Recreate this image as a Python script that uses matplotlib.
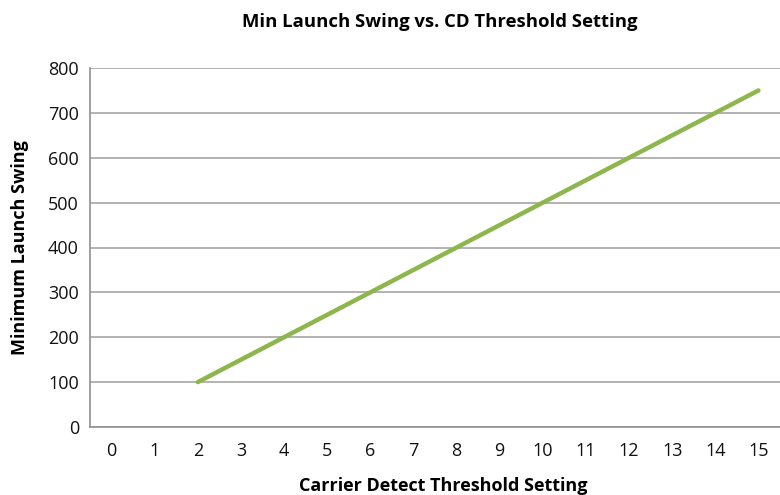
import matplotlib
matplotlib.use('Agg')
from matplotlib import pyplot as plt

plt.rcParams['font.family'] = ['Open Sans', 'DejaVu Sans']

threshold = [2, 3, 4, 5, 6, 7, 8, 9, 10, 11, 12, 13, 14, 15]
min_swing = [100, 150, 200, 250, 300, 350, 400, 450, 500, 550, 600, 650, 700, 750]
x_labels = [str(i) for i in range(16)]
y_ticks = [0, 100, 200, 300, 400, 500, 600, 700, 800]

fig = plt.figure(figsize=(7.8, 4.95), dpi=100)
ax = fig.add_axes([0.1154, 0.1374, 0.8846, 0.7252])

ax.plot(threshold, min_swing, color='#8db64c', linewidth=3.2, solid_capstyle='round')

ax.set_xlim(-0.5, 15.5)
ax.set_ylim(0, 800)
ax.set_xticks(range(16))
ax.set_xticklabels(x_labels)
ax.set_yticks(y_ticks)
ax.yaxis.grid(True, color='#a6a6a6', linewidth=1.2)
ax.set_axisbelow(True)
ax.tick_params(length=0, labelsize=13, pad=11, colors='#111111')
ax.tick_params(axis='y', pad=8)

for s in ['top', 'right']:
    ax.spines[s].set_visible(False)
for s in ['left', 'bottom']:
    ax.spines[s].set_color('#909090')
    ax.spines[s].set_linewidth(1.2)

ax.set_xlabel('Carrier Detect Threshold Setting', fontsize=13, fontweight='bold', labelpad=10)
ax.set_ylabel('Minimum Launch Swing', fontsize=13, fontweight='bold', labelpad=14)
ax.xaxis.set_label_coords(0.512, -0.14)
fig.text(0.564, 0.956, 'Min Launch Swing vs. CD Threshold Setting', ha='center', va='center',
         fontsize=13.3, fontweight='bold')

fig.savefig('out.png', dpi=100)
